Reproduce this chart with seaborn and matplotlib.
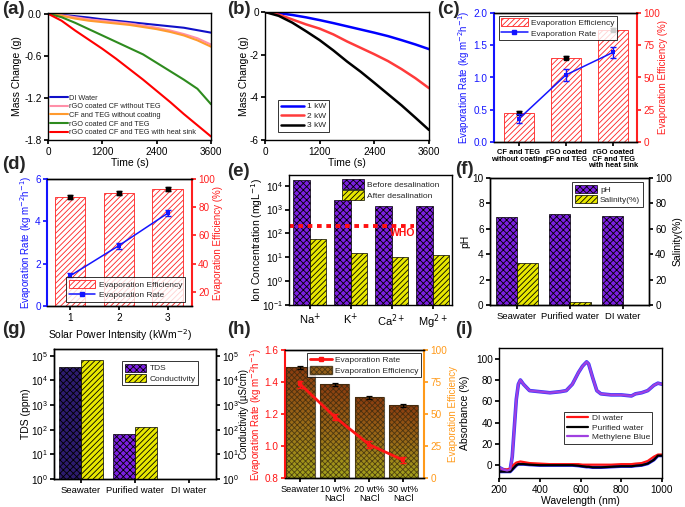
import numpy as np
import pandas as pd
import matplotlib
matplotlib.use("Agg")
import matplotlib.pyplot as plt
import seaborn as sns
from matplotlib.colors import LinearSegmentedColormap
from matplotlib.lines import Line2D
from matplotlib.patches import Patch
from matplotlib.ticker import NullLocator, FixedLocator

# ---------------- data ----------------
time_s = [0, 300, 600, 900, 1200, 1500, 1800, 2100, 2400, 2700, 3000, 3300, 3600]

a_labels = ["DI Water", "rGO coated CF without TEG", "CF and TEG without coating",
            "rGO coated CF and TEG", "rGO coated CF and TEG with heat sink"]
a_di = [0, -0.015, -0.035, -0.055, -0.08, -0.10, -0.12, -0.14, -0.16, -0.18, -0.20, -0.235, -0.27]
a_cf_noteg = [0, -0.02, -0.05, -0.08, -0.10, -0.12, -0.14, -0.17, -0.20, -0.24, -0.29, -0.35, -0.44]
a_teg_nocoat = [0, -0.03, -0.07, -0.10, -0.12, -0.14, -0.16, -0.19, -0.22, -0.26, -0.31, -0.38, -0.47]
a_rgo_teg = [0, -0.05, -0.13, -0.22, -0.31, -0.40, -0.49, -0.58, -0.70, -0.82, -0.94, -1.07, -1.29]
a_heatsink = [0, -0.10, -0.24, -0.37, -0.50, -0.64, -0.79, -0.94, -1.10, -1.26, -1.43, -1.59, -1.75]

b_labels = ["1 kW", "2 kW", "3 kW"]
b_1kw = [0, -0.05, -0.14, -0.25, -0.38, -0.52, -0.67, -0.82, -0.97, -1.13, -1.32, -1.52, -1.74]
b_2kw = [0, -0.12, -0.35, -0.58, -0.78, -1.05, -1.38, -1.68, -1.98, -2.30, -2.68, -3.10, -3.57]
b_3kw = [0, -0.18, -0.50, -0.90, -1.32, -1.80, -2.32, -2.80, -3.32, -3.85, -4.38, -4.95, -5.53]

c_cats = ["CF and TEG\nwithout coating", "rGO coated\nCF and TEG", "rGO coated\nCF and TEG\nwith heat sink"]
c_eff = [22.6, 65.5, 87.0]
c_eff_err = [1.2, 1.2, 1.2]
c_rate = [0.36, 1.04, 1.39]
c_rate_err = [0.07, 0.09, 0.08]

d_cats = ["1", "2", "3"]
d_eff = [87.1, 90.1, 92.9]
d_eff_err = [1.5, 1.3, 1.5]
d_rate = [1.42, 2.85, 4.38]
d_rate_err = [0.12, 0.15, 0.15]

e_ions = ["Na$^{+}$", "K$^{+}$", "Ca$^{2+}$", "Mg$^{2+}$"]
e_before = [17000, 2500, 1400, 1450]
e_after = [58, 15.5, 10, 12.4]
e_who = 200

f_cats = ["Seawater", "Purified water", "DI water"]
f_ph = [6.9, 7.15, 7.0]
f_salinity = [33, 2.5, 0]

g_cats = ["Seawater", "Purified water", "DI water"]
g_tds = [34000, 65, np.nan]
g_cond = [66000, 133, np.nan]

h_cats = ["Seawater", "10 wt%\nNaCl", "20 wt%\nNaCl", "30 wt%\nNaCl"]
h_eff = [86.4, 73.4, 62.9, 56.7]
h_eff_err = [1.2, 1.2, 1.0, 1.0]
h_rate = [1.385, 1.182, 1.009, 0.911]
h_rate_err = [0.02, 0.02, 0.02, 0.02]

wl = [200, 220, 240, 255, 265, 275, 285, 295, 305, 320, 350, 400, 450, 500, 530, 560,
      590, 610, 630, 640, 660, 680, 700, 750, 800, 850, 870, 900, 930, 960, 980, 1000]
i_mb = [-2, -4, -5, -4, 8, 35, 62, 76, 80, 76, 70, 69, 68, 69, 70, 76,
        87, 93, 97, 95, 82, 70, 67, 66, 66, 65, 67, 68, 70, 75, 77, 76]
i_di = [-3, -4, -4, -3, -1, 1, 2.5, 3, 3.5, 3, 2, 1.5, 1, 1, 1, 1,
        1, 0.5, 0.5, 0.5, 0.5, 0.5, 0.5, 0.5, 1, 1, 1.5, 2, 4, 8, 10, 10]
i_pure = [-6, -6, -6, -6, -4, -2, 0, 1, 1, 1, 0.5, 0, 0, 0, 0, 0,
          -0.5, -1, -1.5, -1.5, -2, -2, -2, -1.5, -1, -1, -0.5, 0, 1.5, 5, 9, 9]

# ---------------- style ----------------
sns.set_theme(style="ticks")
plt.rcParams['font.family'] = ['Liberation Sans', 'DejaVu Sans']
plt.rcParams['axes.unicode_minus'] = False
plt.rcParams['hatch.linewidth'] = 0.6
plt.rcParams['axes.linewidth'] = 1.0
plt.rcParams['xtick.labelsize'] = 7.2
plt.rcParams['ytick.labelsize'] = 7.2
plt.rcParams['axes.labelsize'] = 7.5
plt.rcParams['xtick.major.size'] = 3
plt.rcParams['ytick.major.size'] = 3
plt.rcParams['xtick.major.pad'] = 2
plt.rcParams['ytick.major.pad'] = 1.5
plt.rcParams['axes.edgecolor'] = 'black'
plt.rcParams['xtick.color'] = 'black'
plt.rcParams['ytick.color'] = 'black'
plt.rcParams['axes.labelcolor'] = 'black'

PURPLE = '#7b1fe0'
YELLOW = '#e8e800'
W, H = 685, 507

fig = plt.figure(figsize=(6.85, 5.07), dpi=100)


def add_ax(l, r, t, b):
    return fig.add_axes([l / W, 1 - b / H, (r - l) / W, (b - t) / H])


def leg(ax, handles, labels, frame=True, fs=6.0, **kw):
    opts = dict(borderpad=0.3, labelspacing=0.2, handletextpad=0.4, borderaxespad=0.2)
    opts.update(kw)
    lg = ax.legend(handles, labels, fontsize=fs, frameon=frame, fancybox=False, **opts)
    if frame:
        lg.get_frame().set_edgecolor('black')
        lg.get_frame().set_linewidth(0.7)
    return lg


def color_axis(ax, side, color):
    ax.spines[side].set_color(color)
    ax.spines[side].set_linewidth(1.5)
    ax.tick_params(axis='y', colors=color)
    ax.yaxis.label.set_color(color)


# ---------- (a) ----------
ax = add_ax(48, 211, 13, 140)
df_a = pd.DataFrame({
    'Time': time_s * 5,
    'Mass': a_di + a_cf_noteg + a_teg_nocoat + a_rgo_teg + a_heatsink,
    'Sample': sum([[lab] * len(time_s) for lab in a_labels], []),
})
pal_a = dict(zip(a_labels, ['#1010c8', '#ff8fa8', '#ff9a2e', '#2e8b1e', '#ff0000']))
sns.lineplot(data=df_a, x='Time', y='Mass', hue='Sample', palette=pal_a, lw=1.5, ax=ax)
ax.set_xlim(0, 3600)
ax.set_ylim(-1.8, 0.01)
ax.set_xticks([0, 1200, 2400, 3600])
ax.set_yticks([0.0, -0.6, -1.2, -1.8])
ax.set_yticklabels(['0.0', '-0.6', '-1.2', '-1.8'])
ax.set_xlabel('Time (s)', labelpad=1)
ax.set_ylabel('Mass Change (g)')
ax.yaxis.set_label_coords(-0.16, 0.5)
h_, l_ = ax.get_legend_handles_labels()
leg(ax, h_, l_, frame=False, fs=5.3, loc='lower left', handlelength=2.4,
    handletextpad=0.2, bbox_to_anchor=(-0.01, 0.0))

# ---------- (b) ----------
ax = add_ax(265, 429, 12, 140)
df_b = pd.DataFrame({
    'Time': time_s * 3,
    'Mass': b_1kw + b_2kw + b_3kw,
    'Power': sum([[lab] * len(time_s) for lab in b_labels], []),
})
pal_b = dict(zip(b_labels, ['#0000ff', '#ff3b3b', '#000000']))
sns.lineplot(data=df_b, x='Time', y='Mass', hue='Power', palette=pal_b, lw=1.8, ax=ax)
ax.set_xlim(0, 3600)
ax.set_ylim(-6, 0)
ax.set_xticks([0, 1200, 2400, 3600])
ax.set_yticks([0, -2, -4, -6])
ax.set_xlabel('Time (s)', labelpad=1)
ax.set_ylabel('Mass Change (g)')
ax.yaxis.set_label_coords(-0.10, 0.5)
h_, l_ = ax.get_legend_handles_labels()
leg(ax, h_, l_, loc='lower left', handlelength=2.8, bbox_to_anchor=(0.07, 0.05))


# ---------- (c) and (d): efficiency bars + rate line ----------
def eff_rate_panel(rect, cats, eff, eff_err, rate, rate_err, rate_lim, eff_lim,
                   rate_ticks, eff_ticks, xlim, legend_kw, bold_ticks, lab_x):
    ax = add_ax(*rect)
    ax2 = ax.twinx()
    df = pd.DataFrame({'cat': cats, 'eff': eff})
    sns.barplot(data=df, x='cat', y='eff', ax=ax2, width=0.62, color='white',
                saturation=1, edgecolor='#ff2020', linewidth=0.6, hatch='//////')
    xs = np.arange(len(cats))
    ax2.errorbar(xs, eff, yerr=eff_err, fmt='s', color='black', ms=3,
                 capsize=2, elinewidth=1, capthick=1)
    sns.lineplot(x=xs, y=rate, ax=ax, color='#1414ff', marker='s', markersize=3.5,
                 markeredgewidth=0, lw=1.1)
    ax.errorbar(xs, rate, yerr=rate_err, fmt='none', ecolor='#1414ff', capsize=2,
                elinewidth=1, capthick=1)
    ax.set_zorder(ax2.get_zorder() + 1)
    ax.patch.set_visible(False)
    ax.set_xlim(*xlim)
    ax.set_ylim(*rate_lim)
    ax2.set_ylim(*eff_lim)
    ax.set_yticks(rate_ticks)
    ax2.set_yticks(eff_ticks)
    ax.set_xticks(xs)
    if bold_ticks:
        ax.set_xticklabels(cats, fontweight='bold', fontsize=5.4, linespacing=0.95)
    else:
        ax.set_xticklabels(cats)
    ax.set_ylabel('Evaporation Rate (kg m$^{-2}$h$^{-1}$)', fontsize=7.0)
    ax2.set_ylabel('Evaporation Efficiency (%)', fontsize=7.0)
    ax.yaxis.set_label_coords(lab_x[0], 0.5)
    ax2.yaxis.set_label_coords(lab_x[1], 0.5)
    ax2.set_xlabel('')
    ax.spines['right'].set_visible(False)
    ax2.spines['left'].set_visible(False)
    color_axis(ax, 'left', '#1414ff')
    color_axis(ax2, 'right', '#ff2020')
    handles = [ax2.containers[0],
               Line2D([], [], color='#1414ff', marker='s', ms=3, lw=1.1)]
    leg(ax, handles, ['Evaporation Efficiency', 'Evaporation Rate'],
        handlelength=3.2, handleheight=1.1, **legend_kw)
    return ax, ax2


eff_rate_panel((494, 637, 13, 142), c_cats, c_eff, c_eff_err, c_rate, c_rate_err,
               (0, 2.0), (0, 100), [0.0, 0.5, 1.0, 1.5, 2.0], [0, 25, 50, 75, 100],
               (-0.53, 2.51), dict(loc='upper left', bbox_to_anchor=(0.02, 0.99)), True,
               (-0.155, 1.15))

axd, axd2 = eff_rate_panel((47, 192, 179, 306), d_cats, d_eff, d_eff_err, d_rate, d_rate_err,
                           (0, 6), (10, 100), [0, 2, 4, 6], [20, 40, 60, 80, 100],
                           (-0.47, 2.5), dict(loc='lower right', bbox_to_anchor=(0.96, 0.02)),
                           False, (-0.09, 1.148))
axd.set_xlabel('Solar Power Intensity (kWm$^{-2}$)')
axd.xaxis.set_label_coords(0.5, -0.17)

# ---------- (e) ----------
ax = add_ax(289, 452, 175, 305)
df_e = pd.DataFrame({
    'ion': e_ions * 2,
    'conc': e_before + e_after,
    'stage': ['Before desalination'] * 4 + ['After desalination'] * 4,
})
sns.barplot(data=df_e, x='ion', y='conc', hue='stage', ax=ax, width=0.8, saturation=1,
            palette={'Before desalination': PURPLE, 'After desalination': YELLOW},
            linewidth=0.5)
ax.set_yscale('log')
for bar in ax.containers[0]:
    bar.set_hatch('xxxxx')
    bar.set_edgecolor('black')
for bar in ax.containers[1]:
    bar.set_hatch('//////')
    bar.set_edgecolor('black')
ax.set_xlim(-0.5, 3.47)
ax.hlines(e_who, -0.5, 2.55, colors='#ff1010', linestyles=(0, (1.2, 1.2)), lw=2.8)
ax.text(2.26, 100, 'WHO', color='#ff1010', fontsize=7.5, fontweight='bold',
        ha='center', va='center')
ax.set_ylim(0.1, 2.8e4)
ax.yaxis.set_major_locator(FixedLocator([0.1, 1, 10, 100, 1000, 10000]))
ax.yaxis.set_minor_locator(NullLocator())
ax.set_xticks(range(4))
ax.set_xticklabels(e_ions, fontsize=8)
ax.set_xlabel('')
ax.set_ylabel('Ion Concentration (mgL$^{-1}$)')
ax.yaxis.set_label_coords(-0.15, 0.5)
leg(ax, list(ax.containers[:2]), ['Before desalination', 'After desalination'], frame=False,
    loc='upper right', bbox_to_anchor=(0.95, 1.0), handlelength=2.6, handleheight=1.4)

# ---------- (f) ----------
ax = add_ax(490, 649, 178, 305)
ax2 = ax.twinx()
xs = np.arange(len(f_cats))
b1 = ax.bar(xs - 0.2, f_ph, width=0.4, color=PURPLE, edgecolor='black', hatch='xxxxx', lw=0.5)
b2 = ax2.bar(xs + 0.2, f_salinity, width=0.4, color=YELLOW, edgecolor='black', hatch='//////', lw=0.5)
ax.set_ylim(0, 10)
ax2.set_ylim(0, 100)
ax.set_xlim(-0.51, 2.49)
ax.set_yticks([0, 2, 4, 6, 8, 10])
ax2.set_yticks([0, 20, 40, 60, 80, 100])
ax.set_xticks(xs)
ax.set_xticklabels(f_cats, fontsize=6.8)
ax.set_ylabel('pH')
ax2.set_ylabel('Salinity(%)')
ax.yaxis.set_label_coords(-0.123, 0.5)
ax2.yaxis.set_label_coords(1.148, 0.5)
leg(ax2, [b1, b2], ['pH', 'Salinity(%)'], loc='upper right', bbox_to_anchor=(0.97, 0.98),
    handlelength=2.6, handleheight=1.1)

# ---------- (g) ----------
ax = add_ax(54, 216, 349, 479)
ax2 = ax.twinx()
xs = np.arange(len(g_cats))
tds_colors = ['#2d1b6e', PURPLE, PURPLE]
b1 = ax.bar(xs - 0.2, g_tds, width=0.4, color=tds_colors, edgecolor='black', hatch='xxxxx', lw=0.5)
ax.set_yscale('log')
b2 = ax2.bar(xs + 0.2, g_cond, width=0.4, color=YELLOW, edgecolor='black', hatch='//////', lw=0.5)
ax2.set_yscale('log')
for a_ in (ax, ax2):
    a_.set_ylim(1, 1.9e5)
    a_.yaxis.set_major_locator(FixedLocator([1, 10, 100, 1000, 10000, 100000]))
    a_.yaxis.set_minor_locator(NullLocator())
ax.set_xlim(-0.5, 2.5)
ax.set_xticks(xs)
ax.set_xticklabels(g_cats, fontsize=6.8)
ax.set_ylabel('TDS (ppm)')
ax2.set_ylabel('Conductivity (\u00b5S/cm)', fontsize=7.0)
ax.yaxis.set_label_coords(-0.139, 0.5)
ax2.yaxis.set_label_coords(1.14, 0.5)
leg(ax2, [b1[1], b2], ['TDS', 'Conductivity'], loc='upper right', bbox_to_anchor=(0.9, 0.92),
    handlelength=2.6, handleheight=1.1)

# ---------- (h) ----------
ax = add_ax(285, 424, 350, 478)
ax2 = ax.twinx()
df_h = pd.DataFrame({'cat': h_cats, 'eff': h_eff})
sns.barplot(data=df_h, x='cat', y='eff', ax=ax2, width=0.84, color='white', saturation=1,
            fill=False, edgecolor=(0.2, 0.15, 0.05, 0.75), linewidth=0.8, hatch='xxxxxx')
cmap_h = LinearSegmentedColormap.from_list('h', ['#a3a21c', '#9a6a18', '#8a3c10'])
grad = np.linspace(0, 1, 64).reshape(-1, 1)
for p in ax2.patches:
    ax2.imshow(grad, extent=[p.get_x(), p.get_x() + p.get_width(), 0, p.get_height()],
               origin='lower', aspect='auto', cmap=cmap_h, zorder=0.5)
xs = np.arange(len(h_cats))
ax2.errorbar(xs, h_eff, yerr=h_eff_err, fmt='none', ecolor='black', capsize=2,
             elinewidth=0.9, capthick=0.9)
sns.lineplot(x=xs, y=h_rate, ax=ax, color='#ff1414', marker='s', markersize=3,
             markeredgewidth=0, lw=2)
ax.errorbar(xs, h_rate, yerr=h_rate_err, fmt='none', ecolor='#ff1414', capsize=2,
            elinewidth=1, capthick=1)
ax.set_zorder(ax2.get_zorder() + 1)
ax.patch.set_visible(False)
ax.set_xlim(-0.45, 3.6)
ax.set_ylim(0.8, 1.6)
ax2.set_ylim(0, 100)
ax.set_yticks([0.8, 1.0, 1.2, 1.4, 1.6])
ax2.set_yticks([0, 25, 50, 75, 100])
ax.set_xticks(xs)
ax.set_xticklabels(h_cats, fontsize=6.6, linespacing=1.0)
ax.set_ylabel('Evaporation Rate (kg m$^{-2}$h$^{-1}$)', fontsize=7.0)
ax2.set_ylabel('Evaporation Efficiency', fontsize=7.0)
ax.yaxis.set_label_coords(-0.15, 0.5)
ax2.yaxis.set_label_coords(1.17, 0.5)
ax2.set_xlabel('')
ax.spines['right'].set_visible(False)
ax2.spines['left'].set_visible(False)
color_axis(ax, 'left', '#ff1414')
color_axis(ax2, 'right', '#ff9a1a')
handles = [Line2D([], [], color='#ff1414', marker='s', ms=3, lw=2),
           Patch(facecolor='#94601a', edgecolor=(0.2, 0.15, 0.05, 0.75), hatch='xxxxxx')]
leg(ax, handles, ['Evaporation Rate', 'Evaporation Efficiency'], loc='upper right',
    bbox_to_anchor=(0.99, 0.99), handlelength=2.6, handleheight=1.1)

# ---------- (i) ----------
ax = add_ax(499, 662, 348, 478)
i_labels = ['DI water', 'Purified water', 'Methylene Blue']
df_i = pd.DataFrame({
    'wl': wl * 3,
    'abs': i_di + i_pure + i_mb,
    'sample': sum([[lab] * len(wl) for lab in i_labels], []),
})
sns.lineplot(x=wl, y=i_mb, ax=ax, color='#3a3aff', lw=2.6, legend=False)
sns.lineplot(x=wl, y=i_pure, ax=ax, color='#2a2aff', lw=2.4, legend=False)
sns.lineplot(data=df_i, x='wl', y='abs', hue='sample', ax=ax, lw=1.6,
             palette=dict(zip(i_labels, ['#ff1414', '#000000', '#a040e0'])))
ax.set_xlim(200, 1000)
ax.set_ylim(-12, 110)
ax.set_xticks([200, 400, 600, 800, 1000])
ax.set_yticks([0, 20, 40, 60, 80, 100])
ax.set_xlabel('Wavelength (nm)', labelpad=1)
ax.set_ylabel('Absorbance (%)')
ax.yaxis.set_label_coords(-0.175, 0.5)
h_, l_ = ax.get_legend_handles_labels()
leg(ax, h_[-3:], l_[-3:], loc='upper left', bbox_to_anchor=(0.39, 0.52), handlelength=2.6)

# ---------- panel letters ----------
for lab, (px, py) in zip('abcdefghi', [(2, 1), (227, 1), (437, 1), (2, 156), (227, 163),
                                       (455, 161), (2, 321), (227, 321), (455, 321)]):
    fig.text(px / W, 1 - py / H, f'({lab})', fontsize=13.5, fontweight='bold',
             ha='left', va='top')

fig.savefig('out.png', dpi=100)
